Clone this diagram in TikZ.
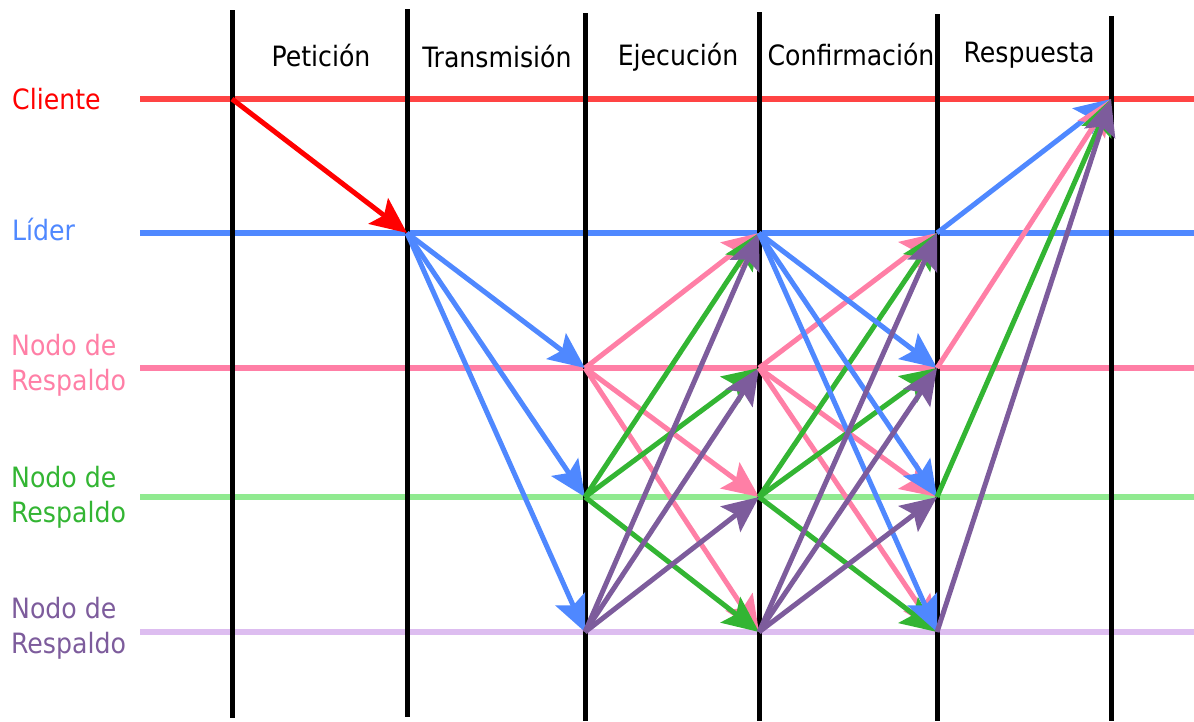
\documentclass[tikz,border=0pt]{standalone}
\usepackage{fontspec}
\setmainfont{DejaVu Sans Condensed}
\usetikzlibrary{arrows.meta}

\definecolor{cred}{HTML}{FF0000}
\definecolor{credline}{HTML}{FF4444}
\definecolor{cblue}{HTML}{4F88FF}
\definecolor{cpink}{HTML}{FF7FA6}
\definecolor{cgreen}{HTML}{33B533}
\definecolor{cgreenline}{HTML}{90EA90}
\definecolor{cpurple}{HTML}{7D5C9C}
\definecolor{cpurpleline}{HTML}{DDBDF0}

\tikzset{
  lane/.style={line width=6pt},
  phase/.style={line width=5pt, black},
  msg/.style={line width=5pt, -{Stealth[length=36pt, width=32pt, inset=7pt]}},
  head/.style={anchor=base, inner sep=0pt, font=\fontsize{28}{33}\selectfont},
  who/.style={anchor=base west, inner sep=0pt, align=left,
              font=\fontsize{28}{35}\selectfont},
}

\begin{document}
\begin{tikzpicture}[x=1pt, y=-1pt]
\useasboundingbox (0,0) rectangle (1194,721);

% lane rows (y) and phase columns (x)
\def\yc{99}\def\yl{233}\def\ya{368}\def\yb{497}\def\yd{632}
\def\xa{232}\def\xb{407}\def\xc{585}\def\xd{759}\def\xe{937}\def\xf{1111}

% lane lines
\coordinate (cS) at (140,\yc); \coordinate (cE) at (1194,\yc);
\coordinate (lS) at (140,\yl); \coordinate (lE) at (1194,\yl);
\coordinate (aS) at (140,\ya); \coordinate (aE) at (1194,\ya);
\coordinate (bS) at (140,\yb); \coordinate (bE) at (1194,\yb);
\coordinate (dS) at (140,\yd); \coordinate (dE) at (1194,\yd);
\draw[lane, credline]    (cS) -- (cE);
\draw[lane, cblue]       (lS) -- (lE);
\draw[lane, cpink]       (aS) -- (aE);
\draw[lane, cgreenline]  (bS) -- (bE);
\draw[lane, cpurpleline] (dS) -- (dE);

% phase separators
\coordinate (v1t) at (\xa,10); \coordinate (v1b) at (\xa,718);
\coordinate (v2t) at (\xb,9);  \coordinate (v2b) at (\xb,717);
\coordinate (v3t) at (\xc,13); \coordinate (v3b) at (\xc,721);
\coordinate (v4t) at (\xd,12); \coordinate (v4b) at (\xd,721);
\coordinate (v5t) at (\xe,14); \coordinate (v5b) at (\xe,721);
\coordinate (v6t) at (\xf,16); \coordinate (v6b) at (\xf,721);
\foreach \v in {1,...,6} \draw[phase] (v\v t) -- (v\v b);

% headers
\node[head] (hpet) at (321,66) {Petición};
\node[head] (htra) at (497,67) {Transmisión};
\node[head] (heje) at (678,65) {Ejecución};
\node[head] (hcon) at (851,65) {Confirmación};
\node[head] (hres) at (1029,62) {Respuesta};

% lane labels (anchored on the baseline of their last line)
\node[who, text=cred]    (tcli) at (12,109) {Cliente};
\node[who, text=cblue]   (tlid) at (12,240) {Líder};
\node[who, text=cpink]   (tn1)  at (11,390) {Nodo de\\Respaldo};
\node[who, text=cgreen]  (tn2)  at (11,522) {Nodo de\\Respaldo};
\node[who, text=cpurple] (tn3)  at (11,653) {Nodo de\\Respaldo};

% message points: lane letter + column number
\coordinate (c1) at (\xa,\yc);
\coordinate (l2) at (\xb,\yl);
\foreach \col/\x in {3/\xc, 4/\xd, 5/\xe} {
  \coordinate (l\col) at (\x,\yl);
  \coordinate (a\col) at (\x,\ya);
  \coordinate (b\col) at (\x,\yb);
  \coordinate (d\col) at (\x,\yd);
}
\coordinate (c6) at (\xf,\yc);

% request
\draw[msg, cred] (c1) -- (l2);

% transmission
\foreach \t in {a3,b3,d3} \draw[msg, cblue] (l2) -- (\t);

% execution
\foreach \t in {l4,b4,d4} \draw[msg, cpink]   (a3) -- (\t);
\foreach \t in {l4,a4,d4} \draw[msg, cgreen]  (b3) -- (\t);
\foreach \t in {l4,a4,b4} \draw[msg, cpurple] (d3) -- (\t);

% confirmation
\foreach \t in {l5,b5,d5} \draw[msg, cpink]   (a4) -- (\t);
\foreach \t in {l5,a5,d5} \draw[msg, cgreen]  (b4) -- (\t);
\foreach \t in {a5,b5,d5} \draw[msg, cblue]   (l4) -- (\t);
\foreach \t in {l5,a5,b5} \draw[msg, cpurple] (d4) -- (\t);

% response
\draw[msg, cblue]   (l5) -- (c6);
\draw[msg, cpink]   (a5) -- (c6);
\draw[msg, cgreen]  (b5) -- (c6);
\draw[msg, cpurple] (d5) -- (c6);
\end{tikzpicture}
\end{document}
